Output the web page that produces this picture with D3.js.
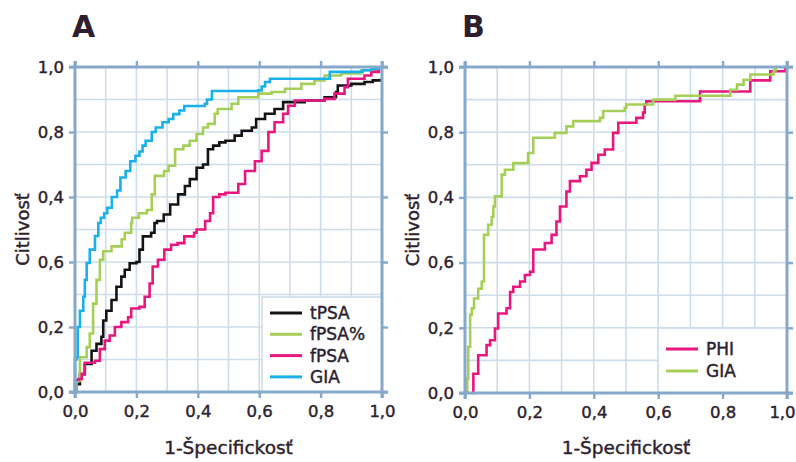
<!DOCTYPE html>
<html>
<head>
<meta charset="utf-8">
<script src="https://cdn.jsdelivr.net/npm/d3@7"></script>
<style>
  body { margin: 0; background: #fff; }
  text { font-family: "DejaVu Sans", sans-serif; fill: #2e1f30; }
  .semi { stroke: #2e1f30; stroke-width: 0.45px; }
</style>
</head>
<body>
<div id="chart"></div>
<script>
// tick values and labels as printed on the figure
const tickValues = [0, 0.2, 0.4, 0.6, 0.8, 1];
const xTickLabels = ["0,0", "0,2", "0,4", "0,6", "0,8", "1,0"];
const yTickLabels = ["0,0", "0,2", "0,6", "0,4", "0,8", "1,0"];

const seriesA = ["tPSA", "fPSA%", "fPSA", "GIA"];
const seriesB = ["PHI", "GIA"];

// ROC points [1-specificity, sensitivity]
const tpsaA = [[0,0],[0.005,0.024],[0.016,0.055],[0.032,0.086],[0.054,0.127],[0.07,0.148],[0.086,0.17],[0.092,0.22],
  [0.102,0.25],[0.119,0.283],[0.135,0.324],[0.151,0.355],[0.162,0.376],[0.178,0.396],[0.2,0.4],[0.21,0.438],
  [0.221,0.479],[0.248,0.49],[0.259,0.52],[0.267,0.526],[0.289,0.546],[0.31,0.577],[0.336,0.608],[0.358,0.634],
  [0.374,0.655],[0.396,0.69],[0.417,0.7],[0.433,0.747],[0.45,0.758],[0.47,0.768],[0.49,0.773],[0.52,0.789],
  [0.543,0.804],[0.576,0.814],[0.59,0.84],[0.619,0.856],[0.65,0.871],[0.678,0.892],[0.748,0.897],[0.813,0.907],
  [0.85,0.923],[0.856,0.943],[0.9,0.948],[0.943,0.954],[0.97,0.959],[0.997,0.964]];

const fpsaPctA = [[0,0],[0.005,0.034],[0.016,0.107],[0.038,0.138],[0.048,0.18],[0.059,0.272],[0.07,0.345],[0.081,0.407],
  [0.092,0.433],[0.119,0.448],[0.152,0.47],[0.162,0.49],[0.183,0.52],[0.186,0.536],[0.208,0.55],[0.234,0.56],
  [0.25,0.608],[0.26,0.665],[0.29,0.68],[0.305,0.696],[0.326,0.747],[0.353,0.758],[0.374,0.773],[0.396,0.794],
  [0.417,0.814],[0.433,0.825],[0.455,0.856],[0.465,0.871],[0.51,0.887],[0.532,0.907],[0.597,0.918],[0.64,0.923],
  [0.684,0.933],[0.737,0.948],[0.78,0.959],[0.813,0.974],[0.867,0.98],[0.932,0.99],[0.986,0.995]];

const fpsaA = [[0,0],[0,0.037],[0.011,0.04],[0.022,0.055],[0.032,0.09],[0.065,0.096],[0.081,0.132],[0.097,0.158],
  [0.113,0.174],[0.13,0.2],[0.151,0.215],[0.173,0.23],[0.183,0.257],[0.21,0.262],[0.227,0.293],[0.243,0.334],
  [0.253,0.386],[0.27,0.407],[0.291,0.438],[0.313,0.453],[0.334,0.458],[0.356,0.479],[0.388,0.49],[0.396,0.5],
  [0.424,0.526],[0.44,0.55],[0.45,0.6],[0.47,0.608],[0.49,0.613],[0.532,0.64],[0.554,0.68],[0.586,0.71],
  [0.608,0.742],[0.63,0.8],[0.65,0.83],[0.678,0.856],[0.694,0.881],[0.716,0.897],[0.813,0.902],[0.845,0.918],
  [0.878,0.938],[0.889,0.964],[0.943,0.974],[0.965,0.985],[0.99,0.995]];

const giaA = [[0,0],[0,0.1],[0.005,0.107],[0.009,0.2],[0.016,0.25],[0.027,0.293],[0.032,0.345],[0.038,0.397],
  [0.048,0.438],[0.065,0.48],[0.076,0.52],[0.084,0.536],[0.095,0.55],[0.105,0.567],[0.12,0.6],[0.137,0.62],
  [0.148,0.66],[0.165,0.68],[0.18,0.71],[0.197,0.727],[0.21,0.74],[0.22,0.758],[0.23,0.773],[0.25,0.8],
  [0.263,0.814],[0.285,0.83],[0.305,0.84],[0.32,0.855],[0.34,0.866],[0.356,0.88],[0.423,0.887],[0.43,0.9],
  [0.446,0.926],[0.597,0.928],[0.608,0.94],[0.619,0.954],[0.635,0.964],[0.83,0.985],[0.937,0.99],[0.965,0.995],[0.99,1]];

const phiB = [[0.021,0],[0.026,0.059],[0.041,0.116],[0.067,0.147],[0.078,0.162],[0.093,0.198],[0.103,0.244],
  [0.129,0.26],[0.14,0.31],[0.15,0.326],[0.171,0.342],[0.186,0.362],[0.202,0.372],[0.212,0.44],[0.248,0.46],
  [0.269,0.485],[0.284,0.526],[0.295,0.572],[0.315,0.618],[0.326,0.65],[0.357,0.665],[0.377,0.685],[0.393,0.706],
  [0.414,0.731],[0.434,0.747],[0.46,0.798],[0.476,0.829],[0.532,0.844],[0.553,0.86],[0.558,0.885],[0.563,0.895],
  [0.73,0.925],[0.886,0.959],[0.948,0.987],[0.995,1]];

const giaB = [[0.005,0],[0.007,0.044],[0.01,0.142],[0.016,0.24],[0.021,0.26],[0.028,0.29],[0.041,0.32],[0.052,0.342],
  [0.059,0.485],[0.072,0.516],[0.083,0.54],[0.088,0.572],[0.093,0.603],[0.114,0.67],[0.124,0.685],[0.15,0.705],
  [0.196,0.736],[0.212,0.783],[0.279,0.798],[0.315,0.818],[0.336,0.834],[0.419,0.844],[0.429,0.865],[0.496,0.875],
  [0.501,0.885],[0.584,0.9],[0.653,0.912],[0.824,0.93],[0.845,0.946],[0.865,0.961],[0.886,0.977],[0.959,0.99],[0.965,1]];

const colorsA = ["#141414", "#a6cf58", "#e8177f", "#1ab0ea"];
const colorsB = ["#e8177f", "#a6cf58"];

const svg = d3.select("#chart").append("svg")
  .attr("width", 796)
  .attr("height", 462);

function drawPanel(o) {
  const x = d3.scaleLinear().domain([0, 1]).range([o.left, o.right]);
  const y = d3.scaleLinear().domain([0, 1]).range([o.bottom, o.top]);
  const g = svg.append("g");
  const minor = d3.range(1, 10).map(i => i / 10);

  // light grid every 0.1
  g.selectAll(".gx").data(minor).join("line")
    .attr("x1", d => x(d)).attr("x2", d => x(d))
    .attr("y1", o.top).attr("y2", o.bottom)
    .attr("stroke", "#cfdcea").attr("stroke-width", 1.6);
  g.selectAll(".gy").data(minor).join("line")
    .attr("y1", d => y(d)).attr("y2", d => y(d))
    .attr("x1", o.left).attr("x2", o.right)
    .attr("stroke", "#cfdcea").attr("stroke-width", 1.6);

  // curves
  const line = d3.line().x(d => x(d[0])).y(d => y(d[1])).curve(d3.curveStepAfter);
  o.series.forEach((name, i) => {
    g.append("path")
      .datum(o.data[i])
      .attr("fill", "none")
      .attr("stroke", o.colors[i])
      .attr("stroke-width", 2.6)
      .attr("d", line);
  });

  // legend box in lower right corner
  const lg = g.append("g");
  lg.append("rect")
    .attr("x", o.legX).attr("y", o.legY)
    .attr("width", o.right - o.legX).attr("height", o.bottom - o.legY)
    .attr("fill", "#fff").attr("stroke", "#cfdcea").attr("stroke-width", 1.6);
  o.series.forEach((name, i) => {
    const ly = o.legY + o.legFirst + i * o.legStep;
    lg.append("line")
      .attr("x1", o.legX + 8).attr("x2", o.legX + 40)
      .attr("y1", ly).attr("y2", ly)
      .attr("stroke", o.colors[i]).attr("stroke-width", 3);
    lg.append("text")
      .attr("class", "semi")
      .attr("x", o.legX + 48).attr("y", ly)
      .attr("dy", "0.36em")
      .attr("font-size", 17)
      .text(name);
  });

  // frame, a little longer than the plot
  const ax = "#86a8ca";
  const ext = 6;
  [[o.left - ext, o.bottom, o.right + ext, o.bottom],
   [o.left - ext, o.top, o.right + ext, o.top],
   [o.left, o.top - ext, o.left, o.bottom + ext],
   [o.right, o.top - ext, o.right, o.bottom + ext]].forEach(l => {
    g.append("line")
      .attr("x1", l[0]).attr("y1", l[1]).attr("x2", l[2]).attr("y2", l[3])
      .attr("stroke", ax).attr("stroke-width", 3);
  });

  function styleAxis(sel) {
    sel.select(".domain").remove();
    sel.selectAll(".tick line").attr("stroke", ax).attr("stroke-width", 2.4);
    sel.selectAll(".tick text")
      .attr("class", "semi")
      .attr("font-size", 16.5)
      .attr("font-family", null)
      .attr("fill", "#2e1f30");
  }

  const xAxis = g.append("g").attr("transform", `translate(0,${o.bottom})`)
    .call(d3.axisBottom(x).tickValues(tickValues).tickFormat((d, i) => xTickLabels[i]).tickSize(6).tickPadding(7))
    .call(styleAxis);
  // the last x label sits a little inside on panel B
  xAxis.selectAll(".tick text").filter(d => d === 1).attr("dx", o.lastShift);

  g.append("g").attr("transform", `translate(0,${o.top})`)
    .call(d3.axisTop(x).tickValues(tickValues).tickFormat("").tickSize(6))
    .call(styleAxis);
  g.append("g").attr("transform", `translate(${o.left},0)`)
    .call(d3.axisLeft(y).tickValues(tickValues).tickFormat((d, i) => yTickLabels[i]).tickSize(6).tickPadding(5))
    .call(styleAxis);
  g.append("g").attr("transform", `translate(${o.right},0)`)
    .call(d3.axisRight(y).tickValues(tickValues).tickFormat("").tickSize(6))
    .call(styleAxis);

  // axis titles
  g.append("text")
    .attr("class", "semi")
    .attr("transform", `translate(${o.left - 52},${(o.top + o.bottom) / 2}) rotate(-90)`)
    .attr("text-anchor", "middle").attr("dy", "0.36em")
    .attr("font-size", 18)
    .text("Citlivosť");
  g.append("text")
    .attr("class", "semi")
    .attr("x", (o.left + o.right) / 2).attr("y", 454)
    .attr("text-anchor", "middle")
    .attr("font-size", 18.5)
    .text("1-Špecifickosť");

  // panel letter
  g.append("text")
    .attr("x", o.left - 3).attr("y", 37)
    .attr("font-size", 30).attr("font-weight", "bold")
    .text(o.letter);
}

drawPanel({
  letter: "A", left: 75, right: 382, top: 67, bottom: 392,
  series: seriesA, data: [tpsaA, fpsaPctA, fpsaA, giaA], colors: colorsA,
  legX: 262, legY: 297, legFirst: 16, legStep: 21.3, lastShift: 0
});

drawPanel({
  letter: "B", left: 465, right: 787, top: 67, bottom: 393,
  series: seriesB, data: [phiB, giaB], colors: colorsB,
  legX: 658, legY: 328, legFirst: 21, legStep: 22, lastShift: -5
});
</script>
</body>
</html>
